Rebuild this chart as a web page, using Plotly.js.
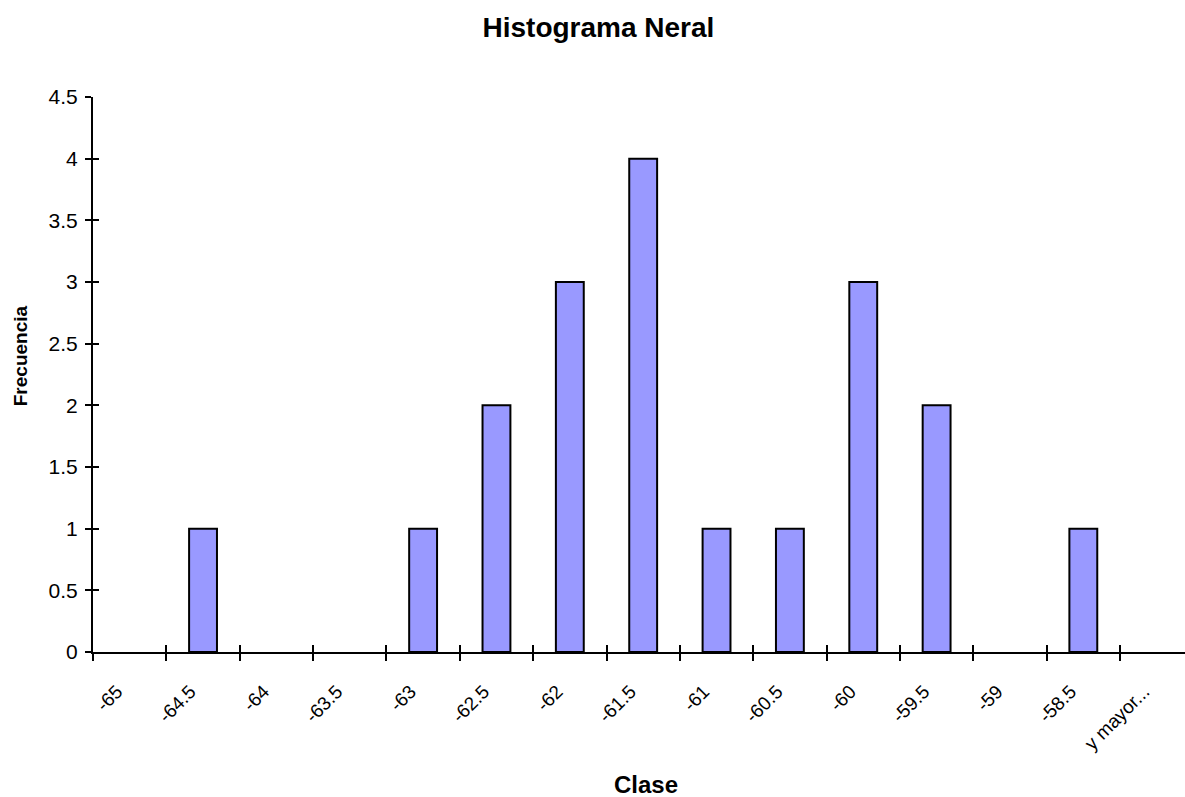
<!DOCTYPE html>
<html>
<head>
<meta charset="utf-8">
<script src="https://cdn.plot.ly/plotly-3.0.1.min.js"></script>
<style>html,body{margin:0;padding:0;background:#fff;}#chart{width:1185px;height:797px;}</style>
</head>
<body>
<div id="chart"></div>
<script>
// Data
const categories = ["-65", "-64.5", "-64", "-63.5", "-63", "-62.5", "-62", "-61.5", "-61", "-60.5", "-60", "-59.5", "-59", "-58.5", "y mayor..."];
const frequencies = [0, 1, 0, 0, 1, 2, 3, 4, 1, 1, 3, 2, 0, 1, 0];
const yTicks = [0, 0.5, 1, 1.5, 2, 2.5, 3, 3.5, 4, 4.5];

const idx = categories.map((c, i) => i);
const boundaries = categories.map((c, i) => i - 0.5);
// empty classes draw no bar (Excel shows nothing for a zero bar)
const barHeights = frequencies.map(v => (v === 0 ? null : v));
const FONT = "Liberation Sans, Arial, sans-serif";

const bars = {
  type: "bar",
  x: idx,
  y: barHeights,
  width: 0.38,
  marker: {color: "#9999FF", line: {color: "#000000", width: 2}},
  hoverinfo: "skip",
  xaxis: "x", yaxis: "y"
};
const overlay = {
  type: "scatter", mode: "none", x: [], y: [], xaxis: "x2", yaxis: "y2", showlegend: false, hoverinfo: "skip"
};

const xRange = [-0.5, 14.386];
const yRange = [0, 4.5];

const layout = {
  width: 1185, height: 797,
  margin: {l: 93, r: 0, t: 97, b: 145},
  paper_bgcolor: "#ffffff", plot_bgcolor: "#ffffff",
  showlegend: false,
  font: {family: FONT, color: "#000000", size: 17},
  title: {text: "<b>Histograma Neral</b>", font: {family: FONT, size: 28, color: "#000"}, x: 0.505, xref: "container", xanchor: "center", y: 0.966, yref: "container", yanchor: "middle"},
  xaxis: {
    range: xRange, tickmode: "array", tickvals: boundaries, ticktext: categories,
    tickangle: -45, ticks: "outside", ticklen: 7, tickwidth: 2, tickcolor: "#000",
    showline: true, linecolor: "#000", linewidth: 2, showgrid: false, zeroline: false,
    tickfont: {family: FONT, size: 19, color: "#000"},
    ticklabelshift: 24, ticklabelstandoff: 12,
    automargin: false, fixedrange: true
  },
  yaxis: {
    range: yRange, tickmode: "array", tickvals: yTicks,
    ticks: "outside", ticklen: 6, tickwidth: 2, tickcolor: "#000",
    showline: true, linecolor: "#000", linewidth: 2, showgrid: false, zeroline: false,
    tickfont: {family: FONT, size: 21, color: "#000"},
    ticklabelstandoff: 3,
    automargin: false, fixedrange: true
  },
  xaxis2: {
    overlaying: "x", range: xRange, tickmode: "array", tickvals: boundaries,
    ticks: "inside", ticklen: 7, tickwidth: 2, tickcolor: "#000", side: "bottom",
    showticklabels: false, showline: false, showgrid: false, zeroline: false, fixedrange: true
  },
  yaxis2: {
    overlaying: "y", range: yRange, tickmode: "array", tickvals: yTicks,
    ticks: "inside", ticklen: 6, tickwidth: 2, tickcolor: "#000", side: "left",
    showticklabels: false, showline: false, showgrid: false, zeroline: false, fixedrange: true
  },
  annotations: [
    {text: "<b>Frecuencia</b>", textangle: -90, xref: "paper", yref: "paper", x: -0.0668, y: 0.533,
     xanchor: "center", yanchor: "middle", showarrow: false, font: {family: FONT, size: 19, color: "#000"}},
    {text: "<b>Clase</b>", xref: "paper", yref: "paper", x: 0.5064, y: -0.2396,
     xanchor: "center", yanchor: "middle", showarrow: false, font: {family: FONT, size: 24, color: "#000"}}
  ]
};

Plotly.newPlot("chart", [bars, overlay], layout, {displayModeBar: false, staticPlot: true});
</script>
</body>
</html>
